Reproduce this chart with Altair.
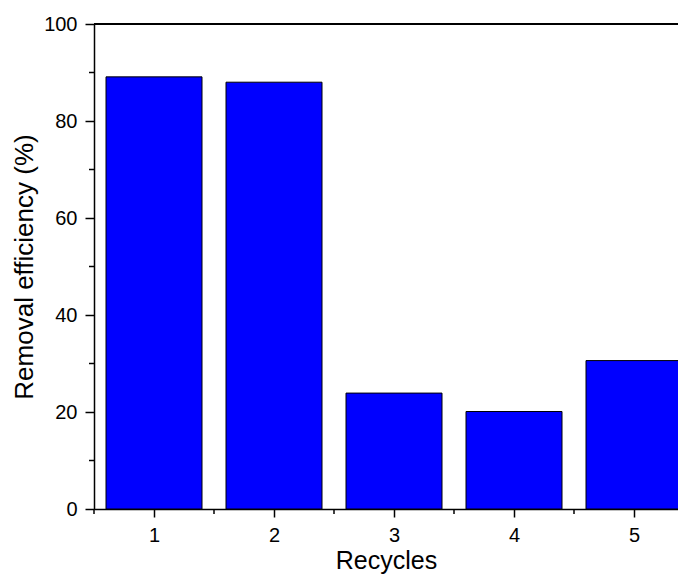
import altair as alt
import pandas as pd

recycles = [1, 2, 3, 4, 5]
efficiency = [89.1, 88.0, 23.9, 20.1, 30.6]

x_major = [1, 2, 3, 4, 5]
x_minor = [0.5, 1.5, 2.5, 3.5, 4.5]
y_major = [0, 20, 40, 60, 80, 100]
y_minor = [10, 30, 50, 70, 90]

df = pd.DataFrame({"Recycles": recycles, "Eff": efficiency})
xm = pd.DataFrame({"v": x_minor})
ym = pd.DataFrame({"v": y_minor})

FONT = "Liberation Sans"
W, H = 584, 485
xscale = alt.Scale(domain=[0.5, 0.5 + W / 120], nice=False, zero=False)
yscale = alt.Scale(domain=[0, 100], nice=False)

xaxis = alt.Axis(
    values=x_major, title="Recycles", orient="bottom", format="d",
    tickSize=8, tickWidth=1.5, domainWidth=1.5, domainColor="black", tickColor="black",
    labelFont=FONT, labelFontSize=20, labelColor="black", labelPadding=8,
    titleFont=FONT, titleFontSize=25, titleFontWeight="normal", titleColor="black", titlePadding=3,
    grid=False)
yaxis = alt.Axis(
    values=y_major, title="Removal efficiency (%)", orient="left",
    tickSize=9, tickWidth=1.5, domainWidth=1.5, domainColor="black", tickColor="black",
    labelFont=FONT, labelFontSize=20, labelColor="black", labelPadding=8,
    titleFont=FONT, titleFontSize=26, titleFontWeight="normal", titleColor="black", titlePadding=6,
    grid=False)

base = alt.Chart(df).transform_calculate(x0="datum.Recycles - 0.4", x1="datum.Recycles + 0.4")

bars = base.mark_bar(color="#0000FF", stroke="black", strokeWidth=1, clip=True).encode(
    x=alt.X("x0:Q", scale=xscale, axis=xaxis),
    x2="x1:Q",
    y=alt.Y("Eff:Q", scale=yscale, axis=yaxis),
    y2=alt.datum(0),
)

xminor = alt.Chart(xm).mark_rule(color="black", strokeWidth=1.5).encode(
    x=alt.X("v:Q", scale=xscale, axis=xaxis),
    y=alt.value(H), y2=alt.value(H + 5),
)
yminor = alt.Chart(ym).mark_rule(color="black", strokeWidth=1.5).encode(
    y=alt.Y("v:Q", scale=yscale, axis=yaxis),
    x=alt.value(0), x2=alt.value(-5),
)

top = alt.Chart(df).mark_rule(color="black", strokeWidth=1.5).encode(
    y=alt.Y(datum=100, scale=yscale, axis=yaxis))

chart = alt.layer(bars, xminor, yminor, top).properties(
    width=W, height=H,
    autosize=alt.AutoSizeParams(type="none"),
    padding={"left": 86, "top": 16, "right": 0, "bottom": 67},
).configure_view(stroke=None)

chart.save("out.html", embed_options={"renderer": "svg", "actions": False})
